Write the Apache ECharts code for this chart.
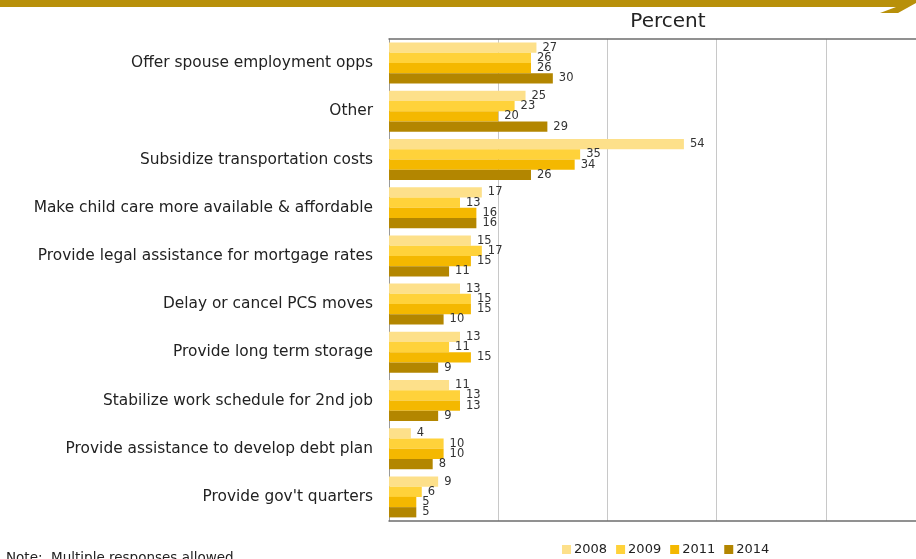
<!DOCTYPE html>
<html>
<head>
<meta charset="utf-8">
<script src="https://cdn.jsdelivr.net/npm/echarts@6/dist/echarts.min.js"></script>
<style>
  html, body { margin: 0; padding: 0; background: #fff; }
  #chart { width: 916px; height: 559px; }
</style>
</head>
<body>
<div id="chart"></div>
<script>
// Reasons / remedies, percent of respondents by survey year
const categories = [
  "Offer spouse employment opps",
  "Other",
  "Subsidize transportation costs",
  "Make child care more available & affordable",
  "Provide legal assistance for mortgage rates",
  "Delay or cancel PCS moves",
  "Provide long term storage",
  "Stabilize work schedule for 2nd job",
  "Provide assistance to develop debt plan",
  "Provide gov't quarters"
];
const years = ["2008", "2009", "2011", "2014"];
const values2008 = [27, 25, 54, 17, 15, 13, 13, 11, 4, 9];
const values2009 = [26, 23, 35, 13, 17, 15, 11, 13, 10, 6];
const values2011 = [26, 20, 34, 16, 15, 15, 15, 13, 10, 5];
const values2014 = [30, 29, 26, 16, 11, 10, 9, 9, 8, 5];
const colors = ["#FDE08A", "#FFD23A", "#F4B800", "#B38600"];

const seriesValues = [values2008, values2009, values2011, values2014];
const font = "DejaVu Sans, Verdana, sans-serif";
// the visible part of the value axis ends a little short of 100
const axisMax = 96.5;

const chart = echarts.init(document.getElementById("chart"), null, { renderer: "canvas" });

const valueAxis = (position, showSplit) => ({
  type: "value",
  min: 0,
  max: axisMax,
  interval: 20,
  position: position,
  axisLabel: { show: false },
  axisTick: { show: false },
  axisLine: { show: true, lineStyle: { color: "#6e6e6e", width: 1.5 } },
  splitLine: { show: showSplit, lineStyle: { color: "#c8c8c8", width: 1 } }
});

chart.setOption({
  animation: false,
  backgroundColor: "#fff",
  title: {
    text: "Percent",
    left: 663,
    textAlign: "center",
    top: 7,
    textStyle: { fontFamily: font, fontSize: 20, fontWeight: "normal", color: "#222" }
  },
  legend: {
    data: years,
    left: 557,
    top: 538,
    itemWidth: 9,
    itemHeight: 9,
    itemGap: 9,
    icon: "rect",
    textStyle: { fontFamily: font, fontSize: 13, color: "#222", padding: [0, 0, 0, -2] }
  },
  grid: {
    left: 389,
    right: 0,
    top: 39,
    bottom: 38,
    show: false
  },
  xAxis: [valueAxis("bottom", true), valueAxis("top", false)],
  yAxis: {
    type: "category",
    data: categories,
    inverse: true,
    axisLine: { show: true, lineStyle: { color: "#9a9a9a" } },
    axisTick: { show: false },
    axisLabel: {
      margin: 16,
      fontFamily: font,
      fontSize: 15.4,
      color: "#222"
    }
  },
  series: seriesValues.map((vals, i) => ({
    name: years[i],
    type: "bar",
    xAxisIndex: 0,
    data: vals,
    barGap: "0%",
    barCategoryGap: "15%",
    itemStyle: { color: colors[i] },
    label: {
      show: true,
      position: "right",
      distance: 6,
      fontFamily: font,
      fontSize: 11.5,
      color: "#333"
    }
  })),
  graphic: [
    {
      type: "polygon",
      shape: { points: [[0, 0], [916, 0], [916, 3], [898, 13], [880, 13], [896, 7], [0, 7]] },
      style: { fill: "#B8900A" },
      silent: true
    },
    {
      type: "text",
      left: 6,
      top: 551,
      style: { text: "Note:  Multiple responses allowed", fontFamily: font, fontSize: 13.5, fill: "#222" },
      silent: true
    }
  ]
});
</script>
</body>
</html>
